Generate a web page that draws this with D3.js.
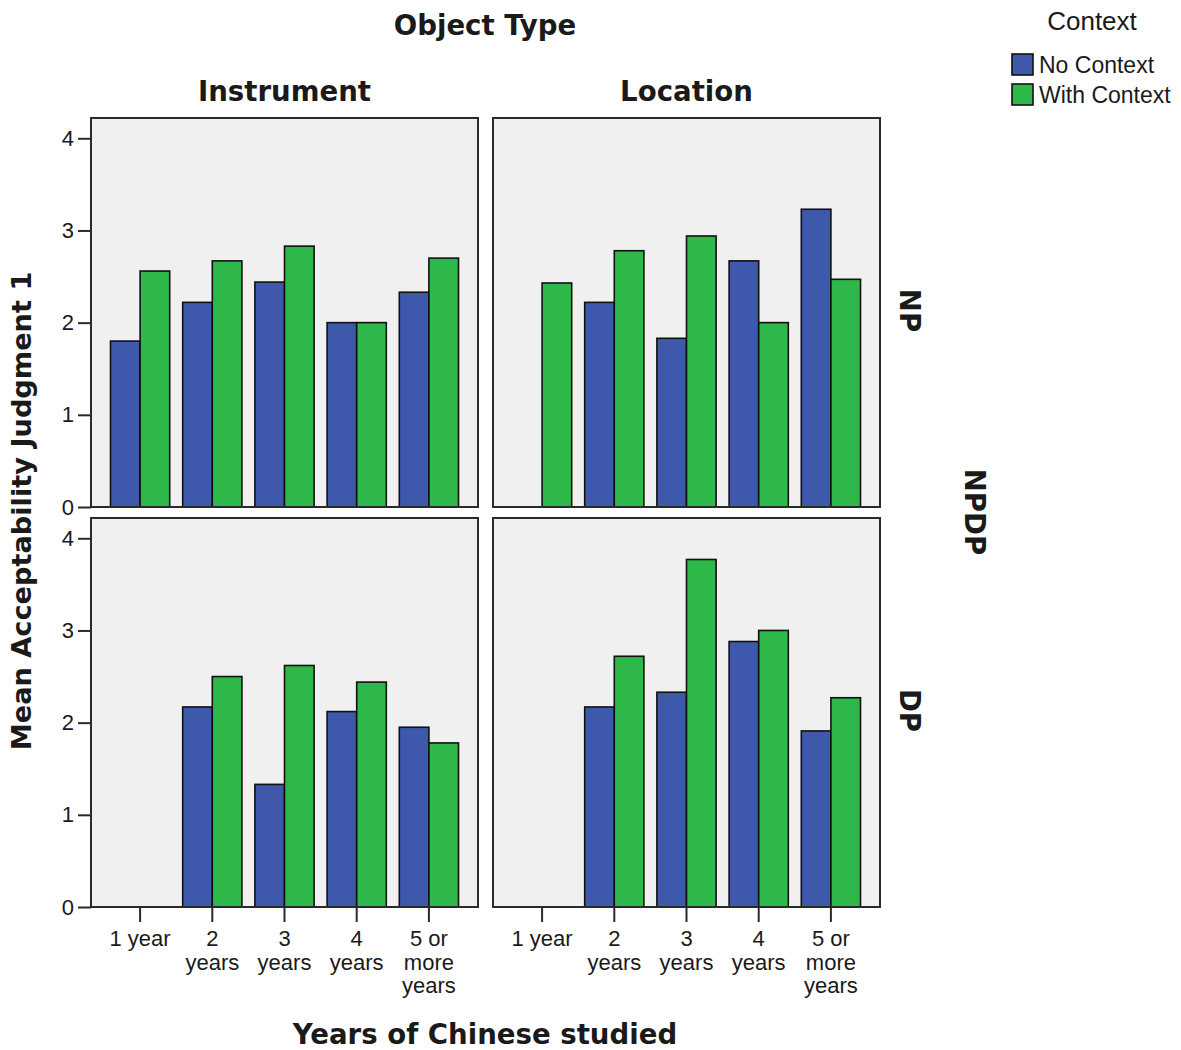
<!DOCTYPE html>
<html>
<head>
<meta charset="utf-8">
<script src="https://cdn.jsdelivr.net/npm/d3@7"></script>
<style>
  html, body { margin: 0; padding: 0; background: #ffffff; }
  svg { display: block; }
  .tick text { font-family: "Liberation Sans", Arial, sans-serif; }
</style>
</head>
<body>
<svg id="chart" width="1181" height="1050"></svg>
<script>
// ---- data ----
const years = ["1 year", "2 years", "3 years", "4 years", "5 or more years"];
const yearLabelLines = [["1 year"], ["2", "years"], ["3", "years"], ["4", "years"], ["5 or", "more", "years"]];
const objectTypes = ["Instrument", "Location"];
const nounTypes = ["NP", "DP"];
const contexts = ["No Context", "With Context"];
const yTicks = [0, 1, 2, 3, 4];

// mean acceptability judgment, per cell (null = no observations)
const instrumentNP_noContext   = [1.80, 2.22, 2.44, 2.00, 2.33];
const instrumentNP_withContext = [2.56, 2.67, 2.83, 2.00, 2.70];
const locationNP_noContext     = [null, 2.22, 1.83, 2.67, 3.23];
const locationNP_withContext   = [2.43, 2.78, 2.94, 2.00, 2.47];
const instrumentDP_noContext   = [null, 2.17, 1.33, 2.12, 1.95];
const instrumentDP_withContext = [null, 2.50, 2.62, 2.44, 1.78];
const locationDP_noContext     = [null, 2.17, 2.33, 2.88, 1.91];
const locationDP_withContext   = [null, 2.72, 3.77, 3.00, 2.27];

const cells = {
  "Instrument|NP": [instrumentNP_noContext, instrumentNP_withContext],
  "Location|NP":   [locationNP_noContext, locationNP_withContext],
  "Instrument|DP": [instrumentDP_noContext, instrumentDP_withContext],
  "Location|DP":   [locationDP_noContext, locationDP_withContext]
};

// ---- layout ----
const colors = d3.scaleOrdinal().domain(contexts).range(["#3e58ac", "#2eb84a"]);
const panelW = 387, panelH = 389;
const colX = d3.scaleOrdinal().domain(objectTypes).range([91, 493]);
const rowY = d3.scaleOrdinal().domain(nounTypes).range([118, 518]);

const x = d3.scaleBand().domain(years).range([0, panelW]).paddingInner(0.18).paddingOuter(0.27);
const xSub = d3.scaleBand().domain(contexts).range([0, x.bandwidth()]);
const y = d3.scaleLinear().domain([0, 4.22]).range([panelH, 0]);

const bold = '"DejaVu Sans", Verdana, sans-serif';
const plain = '"Liberation Sans", Arial, sans-serif';
const ink = "#1a1a1a";
const titleSize = 27.6;

const svg = d3.select("#chart");

// titles
svg.append("text").attr("x", 485).attr("y", 35).attr("text-anchor", "middle")
  .attr("font-family", bold).attr("font-weight", "bold").attr("font-size", titleSize).attr("fill", ink)
  .text("Object Type");

objectTypes.forEach(o => {
  svg.append("text").attr("x", colX(o) + panelW / 2).attr("y", 101).attr("text-anchor", "middle")
    .attr("font-family", bold).attr("font-weight", "bold").attr("font-size", titleSize).attr("fill", ink)
    .text(o);
});

nounTypes.forEach(n => {
  const cy = rowY(n) + panelH / 2 - 2;
  svg.append("text").attr("transform", `translate(900,${cy}) rotate(90)`).attr("text-anchor", "middle")
    .attr("font-family", bold).attr("font-weight", "bold").attr("font-size", titleSize).attr("fill", ink)
    .text(n);
});

svg.append("text").attr("transform", "translate(965,512) rotate(90)").attr("text-anchor", "middle")
  .attr("font-family", bold).attr("font-weight", "bold").attr("font-size", titleSize).attr("fill", ink)
  .text("NPDP");

svg.append("text").attr("transform", "translate(31,511) rotate(-90)").attr("text-anchor", "middle")
  .attr("font-family", bold).attr("font-weight", "bold").attr("font-size", 27.2).attr("fill", ink)
  .text("Mean Acceptability Judgment 1");

svg.append("text").attr("x", 485).attr("y", 1044).attr("text-anchor", "middle")
  .attr("font-family", bold).attr("font-weight", "bold").attr("font-size", titleSize).attr("fill", ink)
  .text("Years of Chinese studied");

// panels
nounTypes.forEach(n => {
  objectTypes.forEach(o => {
    const g = svg.append("g").attr("transform", `translate(${colX(o)},${rowY(n)})`);
    g.append("rect").attr("x", 0).attr("y", 0).attr("width", panelW).attr("height", panelH)
      .attr("fill", "#f0f0f0");

    const series = cells[o + "|" + n];
    contexts.forEach((c, ci) => {
      const vals = series[ci];
      g.append("g").selectAll("rect")
        .data(years.map((yr, i) => ({ yr, v: vals[i] })).filter(d => d.v != null))
        .join("rect")
        .attr("x", d => x(d.yr) + xSub(c))
        .attr("y", d => y(d.v))
        .attr("width", xSub.bandwidth())
        .attr("height", d => y(0) - y(d.v))
        .attr("fill", colors(c))
        .attr("stroke", "#111")
        .attr("stroke-width", 1.6);
    });

    g.append("rect").attr("x", 0).attr("y", 0).attr("width", panelW).attr("height", panelH)
      .attr("fill", "none").attr("stroke", "#2a2a2a").attr("stroke-width", 2);

    if (o === objectTypes[0]) {
      const ax = g.append("g")
        .call(d3.axisLeft(y).tickValues(yTicks).tickFormat(d3.format("d")).tickSize(13).tickPadding(4));
      ax.select(".domain").remove();
      ax.selectAll(".tick line").attr("stroke", "#2a2a2a").attr("stroke-width", 2);
      ax.selectAll(".tick text").attr("font-size", 22).attr("fill", ink).attr("font-family", plain);
    }

    if (n === nounTypes[nounTypes.length - 1]) {
      const ax = g.append("g").attr("transform", `translate(0,${panelH})`)
        .call(d3.axisBottom(x).tickSize(15).tickFormat(""));
      ax.select(".domain").remove();
      ax.selectAll(".tick line").attr("stroke", "#2a2a2a").attr("stroke-width", 2);
      ax.selectAll(".tick").each(function (d, i) {
        const t = d3.select(this).append("text")
          .attr("text-anchor", "middle").attr("font-size", 22).attr("fill", ink)
          .attr("font-family", plain);
        yearLabelLines[i].forEach((line, li) => {
          t.append("tspan").attr("x", 0).attr("y", 39 + li * 23.5).text(line);
        });
      });
    }
  });
});

// legend
const lg = svg.append("g");
lg.append("text").attr("x", 1092).attr("y", 30).attr("text-anchor", "middle")
  .attr("font-family", plain).attr("font-size", 26).attr("fill", ink).text("Context");
contexts.forEach((c, i) => {
  const ly = 54 + i * 30;
  lg.append("rect").attr("x", 1012).attr("y", ly).attr("width", 21).attr("height", 21)
    .attr("fill", colors(c)).attr("stroke", "#111").attr("stroke-width", 1.6);
  lg.append("text").attr("x", 1039).attr("y", ly + 19)
    .attr("font-family", plain).attr("font-size", 23).attr("fill", ink).text(c);
});
</script>
</body>
</html>
